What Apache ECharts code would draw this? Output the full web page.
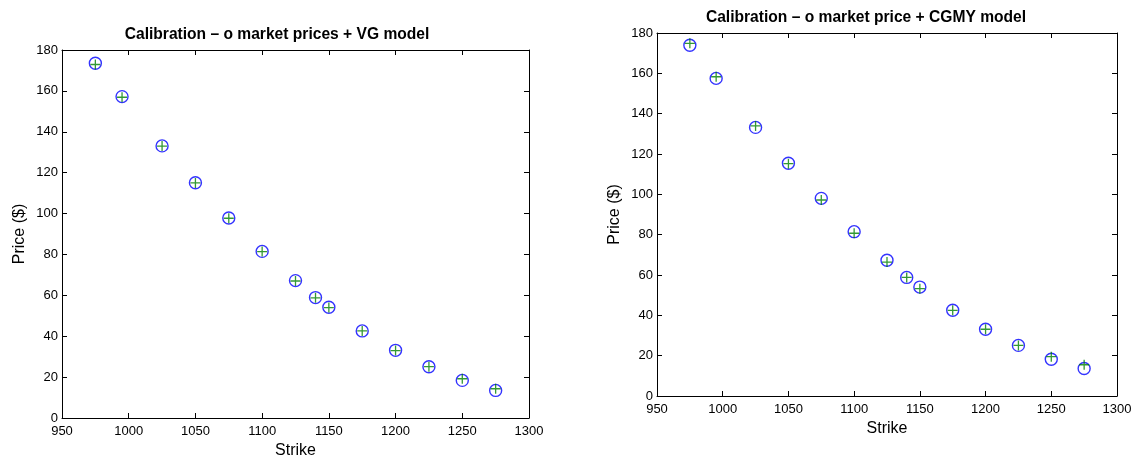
<!DOCTYPE html>
<html>
<head>
<meta charset="utf-8">
<script src="https://cdn.jsdelivr.net/npm/echarts@6/dist/echarts.min.js"></script>
<style>
html,body{margin:0;padding:0;background:#fff;}
#chart{width:1139px;height:456px;}
</style>
</head>
<body>
<div id="chart"></div>
<script>
const strikes = [975, 995, 1025, 1050, 1075, 1100, 1125, 1140, 1150, 1175, 1200, 1225, 1250, 1275];
const vgMarket = [173.5, 157.2, 133.1, 115.1, 97.8, 81.5, 67.2, 58.9, 54.2, 42.6, 33.1, 25.1, 18.4, 13.5];
const vgModel  = [172.9, 156.9, 133.0, 115.0, 97.7, 81.4, 67.0, 58.8, 54.0, 42.6, 33.0, 25.1, 19.2, 14.3];
const cgmyMarket = [173.9, 157.5, 133.2, 115.4, 98.0, 81.5, 67.3, 58.8, 54.0, 42.5, 33.1, 25.1, 18.2, 13.6];
const cgmyModel  = [174.9, 158.3, 133.9, 115.2, 97.2, 80.7, 66.4, 58.8, 53.2, 42.5, 33.1, 25.1, 19.5, 15.5];
const titles = ['Calibration \u2013 o market prices + VG model', 'Calibration \u2013 o market price + CGMY model'];

const FONT = 'Liberation Sans, Arial, Helvetica, sans-serif';
const pairs = (ys) => strikes.map((x, i) => [x, ys[i]]);
const plusPath = 'path://M5,0L5,10M0,5L10,5';

const grids = [
  {left: 62, top: 50, width: 467, height: 368, outerBoundsMode: 'none', containLabel: false},
  {left: 657, top: 33, width: 460, height: 363, outerBoundsMode: 'none', containLabel: false}
];

function xAx(gi, pos, show) {
  return {
    gridIndex: gi, type: 'value', min: 950, max: 1300, interval: 50, position: pos,
    name: show ? 'Strike' : '', nameLocation: 'middle', nameGap: 22,
    nameTextStyle: {fontFamily: FONT, fontSize: 16, color: '#000'},
    axisLine: {show: true, onZero: false, lineStyle: {color: '#000', width: 1}},
    axisTick: {show: true, inside: true, length: 5, lineStyle: {color: '#000'}},
    axisLabel: {show: show, fontFamily: FONT, fontSize: 13, color: '#000', margin: 7,
      formatter: (v) => String(v)},
    splitLine: {show: false}
  };
}
function yAx(gi, pos, show) {
  return {
    gridIndex: gi, type: 'value', min: 0, max: 180, interval: 20, position: pos,
    name: show ? 'Price ($)' : '', nameLocation: 'middle', nameGap: 34, nameRotate: 90,
    nameTextStyle: {fontFamily: FONT, fontSize: 16, color: '#000'},
    axisLine: {show: true, onZero: false, lineStyle: {color: '#000', width: 1}},
    axisTick: {show: true, inside: true, length: 5, lineStyle: {color: '#000'}},
    axisLabel: {show: show, fontFamily: FONT, fontSize: 13, color: '#000', margin: 4},
    splitLine: {show: false}
  };
}

const series = [];
[[vgMarket, vgModel], [cgmyMarket, cgmyModel]].forEach((d, gi) => {
  series.push({
    type: 'scatter', xAxisIndex: gi * 2, yAxisIndex: gi * 2, data: pairs(d[0]),
    symbol: 'circle', symbolSize: 12,
    itemStyle: {color: 'rgba(0,0,0,0)', borderColor: '#0000ff', borderWidth: 1.4},
    silent: true, z: 2
  });
  series.push({
    type: 'scatter', xAxisIndex: gi * 2, yAxisIndex: gi * 2, data: pairs(d[1]),
    symbol: plusPath, symbolSize: 10, symbolKeepAspect: true,
    itemStyle: {color: 'rgba(0,0,0,0)', borderColor: '#008000', borderWidth: 1.3},
    silent: true, z: 3
  });
});

const option = {
  animation: false,
  backgroundColor: '#fff',
  title: [
    {text: titles[0], left: 272, top: 22, textAlign: 'center',
     textStyle: {fontFamily: FONT, fontSize: 15.6, fontWeight: 'bold', color: '#000'}},
    {text: titles[1], left: 861, top: 5, textAlign: 'center',
     textStyle: {fontFamily: FONT, fontSize: 15.6, fontWeight: 'bold', color: '#000'}}
  ],
  grid: grids,
  xAxis: [xAx(0, 'bottom', true), xAx(0, 'top', false), xAx(1, 'bottom', true), xAx(1, 'top', false)],
  yAxis: [yAx(0, 'left', true), yAx(0, 'right', false), yAx(1, 'left', true), yAx(1, 'right', false)],
  series: series
};

const chart = echarts.init(document.getElementById('chart'), null, {renderer: 'canvas'});
chart.setOption(option);
</script>
</body>
</html>
